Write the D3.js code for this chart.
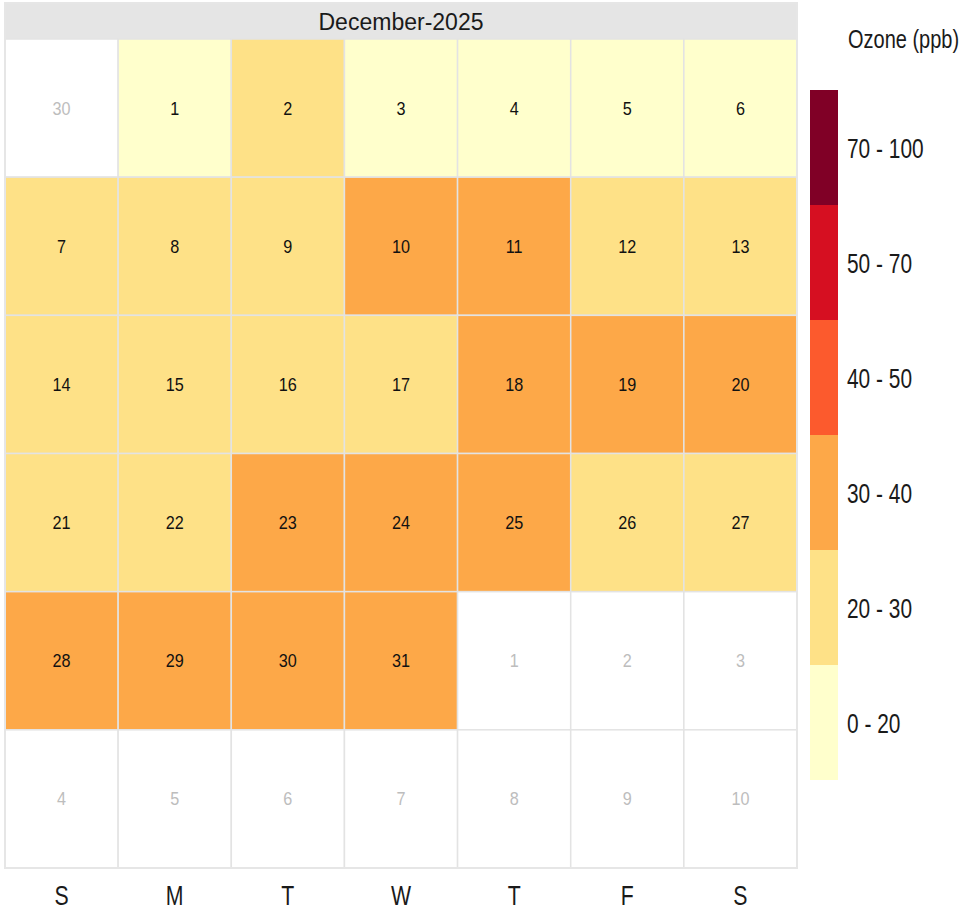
<!DOCTYPE html>
<html>
<head>
<meta charset="utf-8">
<script src="https://cdn.jsdelivr.net/npm/d3@7"></script>
<style>
  body { margin: 0; background: #fff; }
  svg { display: block; }
  text { font-family: "Liberation Sans", Arial, sans-serif; }
</style>
</head>
<body>
<svg id="chart" width="964" height="912"></svg>
<script>
// ---- Data ----
const monthTitle = "December-2025";
const year = 2025, month = 11; // December (0-based)
// Daily ozone (ppb), Dec 1..31 (estimated from the colour classes)
const ozone = [18, 23, 17, 16, 19, 18, 26, 27, 28, 32, 31, 27, 26, 28, 27, 29, 28, 33, 34, 32,
               27, 28, 31, 32, 33, 29, 28, 31, 33, 34, 32];
const breaks = [20, 30, 40, 50, 70];
const classLabels = ["0 - 20", "20 - 30", "30 - 40", "40 - 50", "50 - 70", "70 - 100"];
const classColors = ["#FFFFCC", "#FEE187", "#FDA848", "#FC5A2D", "#D60F21", "#800026"];
const weekdayLabels = ["S", "M", "T", "W", "T", "F", "S"];
const legendTitle = "Ozone (ppb)";

// ---- Layout ----
const svg = d3.select("#chart");
const panel = { x0: 5, x1: 797, top: 3, strip: 39, y1: 868 };
const nWeeks = 6;

const x = d3.scaleBand().domain(d3.range(7)).range([panel.x0, panel.x1]);
const y = d3.scaleBand().domain(d3.range(nWeeks)).range([panel.strip, panel.y1]);
const color = d3.scaleThreshold().domain(breaks).range(classColors);

// Build the 42-day grid starting from Sunday on/before the 1st
const first = new Date(year, month, 1);
const start = d3.timeSunday.floor(first);
const days = d3.timeDay.range(start, d3.timeDay.offset(start, nWeeks * 7)).map((d, i) => {
  const inMonth = d.getMonth() === month;
  return {
    date: d,
    col: d.getDay(),
    row: Math.floor(i / 7),
    inMonth,
    value: inMonth ? ozone[d.getDate() - 1] : null
  };
});

// Strip
svg.append("rect")
  .attr("x", panel.x0).attr("y", panel.top)
  .attr("width", panel.x1 - panel.x0).attr("height", panel.strip - panel.top)
  .attr("fill", "#E5E5E5");
svg.append("text")
  .attr("transform", `translate(${(panel.x0 + panel.x1) / 2},${(panel.top + panel.strip) / 2 + 8.5}) scale(0.94,1)`)
  .attr("text-anchor", "middle")
  .attr("font-size", 24.5)
  .attr("fill", "#1a1a1a")
  .text(monthTitle);

// Cells
const cells = svg.append("g");
cells.selectAll("rect").data(days).join("rect")
  .attr("x", d => x(d.col)).attr("y", d => y(d.row))
  .attr("width", x.bandwidth()).attr("height", y.bandwidth())
  .attr("fill", d => d.inMonth ? color(d.value) : "#FFFFFF")
  .attr("stroke", "#E3E3E3").attr("stroke-width", 1.5);

cells.selectAll("text").data(days).join("text")
  .attr("transform", d => `translate(${x(d.col) + x.bandwidth() / 2},${y(d.row) + y.bandwidth() / 2 + 6.5}) scale(0.9,1)`)
  .attr("text-anchor", "middle")
  .attr("font-size", 18)
  .attr("fill", d => d.inMonth ? "#111" : "#BDBDBD")
  .text(d => d.date.getDate());

// Panel border
svg.append("rect")
  .attr("x", panel.x0).attr("y", panel.top)
  .attr("width", panel.x1 - panel.x0).attr("height", panel.y1 - panel.top)
  .attr("fill", "none").attr("stroke", "#E6E6E6").attr("stroke-width", 2);

// Weekday labels
svg.append("g").selectAll("text").data(weekdayLabels).join("text")
  .attr("transform", (d, i) => `translate(${x(i) + x.bandwidth() / 2},${905}) scale(0.76,1)`)
  .attr("text-anchor", "middle")
  .attr("font-size", 28)
  .attr("fill", "#1a1a1a")
  .text(d => d);

// Legend
const ly = d3.scaleBand().domain(d3.range(classLabels.length).reverse()).range([90, 780]);
const legend = svg.append("g");
legend.selectAll("rect").data(classColors).join("rect")
  .attr("x", 810).attr("y", (d, i) => ly(i))
  .attr("width", 28).attr("height", ly.bandwidth())
  .attr("fill", d => d);
legend.selectAll("text.lab").data(classLabels).join("text")
  .attr("class", "lab")
  .attr("transform", (d, i) => `translate(847,${ly(i) + ly.bandwidth() / 2 + 10}) scale(0.76,1)`)
  .attr("font-size", 27.5)
  .attr("fill", "#1a1a1a")
  .text(d => d);
svg.append("text")
  .attr("transform", `translate(848,48) scale(0.8,1)`)
  .attr("font-size", 25)
  .attr("fill", "#1a1a1a")
  .text(legendTitle);
</script>
</body>
</html>
